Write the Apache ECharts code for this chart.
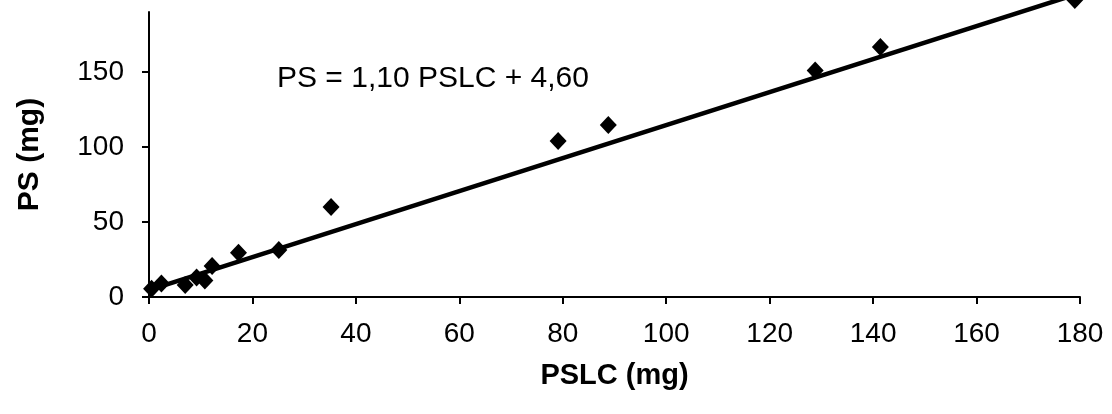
<!DOCTYPE html>
<html>
<head>
<meta charset="utf-8">
<script src="https://cdn.jsdelivr.net/npm/echarts@6/dist/echarts.min.js"></script>
<style>
html,body{margin:0;padding:0;background:#fff;}
#chart{width:1112px;height:414px;}
</style>
</head>
<body>
<div id="chart"></div>
<script>
// Data
const pslc = [0.5, 2.4, 7.0, 9.2, 10.8, 12.2, 17.3, 25.1, 35.2, 79.1, 88.8, 128.8, 141.4, 179.0];
const ps   = [5.5, 9.0, 8.0, 13.0, 11.0, 20.7, 29.5, 31.3, 60.0, 104.0, 114.7, 151.0, 166.7, 198.0];
// Regression line endpoints (PS = 1,10 PSLC + 4,60)
const fitX = [0, 180];
const fitY = [4.6, 202.6];
const xTicks = [0, 20, 40, 60, 80, 100, 120, 140, 160, 180];
const yTicks = [0, 50, 100, 150];
const equationText = 'PS = 1,10 PSLC + 4,60';

const FONT = '"Liberation Sans", Arial, sans-serif';
const chart = echarts.init(document.getElementById('chart'), null, {renderer: 'canvas'});
chart.setOption({
  backgroundColor: '#ffffff',
  animation: false,
  grid: {left: 149, right: 32, top: 12, bottom: 117, containLabel: false},
  xAxis: {
    type: 'value', min: 0, max: 180, interval: 20,
    name: 'PSLC (mg)', nameLocation: 'middle', nameGap: 64,
    nameTextStyle: {fontFamily: FONT, fontSize: 29, fontWeight: 'bold', color: '#000'},
    axisLine: {show: true, onZero: false, lineStyle: {color: '#000', width: 2}},
    axisTick: {show: true, inside: false, length: 7, lineStyle: {color: '#000', width: 2}},
    axisLabel: {fontFamily: FONT, fontSize: 28, color: '#000', margin: 23,
      formatter: v => xTicks.includes(v) ? String(v) : ''},
    splitLine: {show: false}
  },
  yAxis: {
    type: 'value', min: 0, max: 190, interval: 50,
    name: 'PS (mg)', nameLocation: 'middle', nameGap: 104, nameRotate: 90,
    nameTextStyle: {fontFamily: FONT, fontSize: 30, fontWeight: 'bold', color: '#000'},
    axisLine: {show: true, onZero: false, lineStyle: {color: '#000', width: 2}},
    axisTick: {show: true, inside: false, length: 7, lineStyle: {color: '#000', width: 2}},
    axisLabel: {fontFamily: FONT, fontSize: 28, color: '#000', margin: 25,
      showMaxLabel: false,
      formatter: v => yTicks.includes(v) ? String(v) : ''},
    splitLine: {show: false}
  },
  graphic: [{
    type: 'text', left: 277, top: 64,
    style: {text: equationText, fontFamily: FONT, fontSize: 30, fill: '#000'}
  }],
  series: [
    {
      type: 'line', clip: false, symbol: 'none',
      data: fitX.map((x, i) => [x, fitY[i]]),
      lineStyle: {color: '#000', width: 4.5}, z: 2
    },
    {
      type: 'scatter', clip: false, symbol: 'diamond', symbolSize: [17, 18],
      data: pslc.map((x, i) => [x, ps[i]]),
      itemStyle: {color: '#000', opacity: 1}, z: 3
    }
  ]
});
</script>
</body>
</html>
